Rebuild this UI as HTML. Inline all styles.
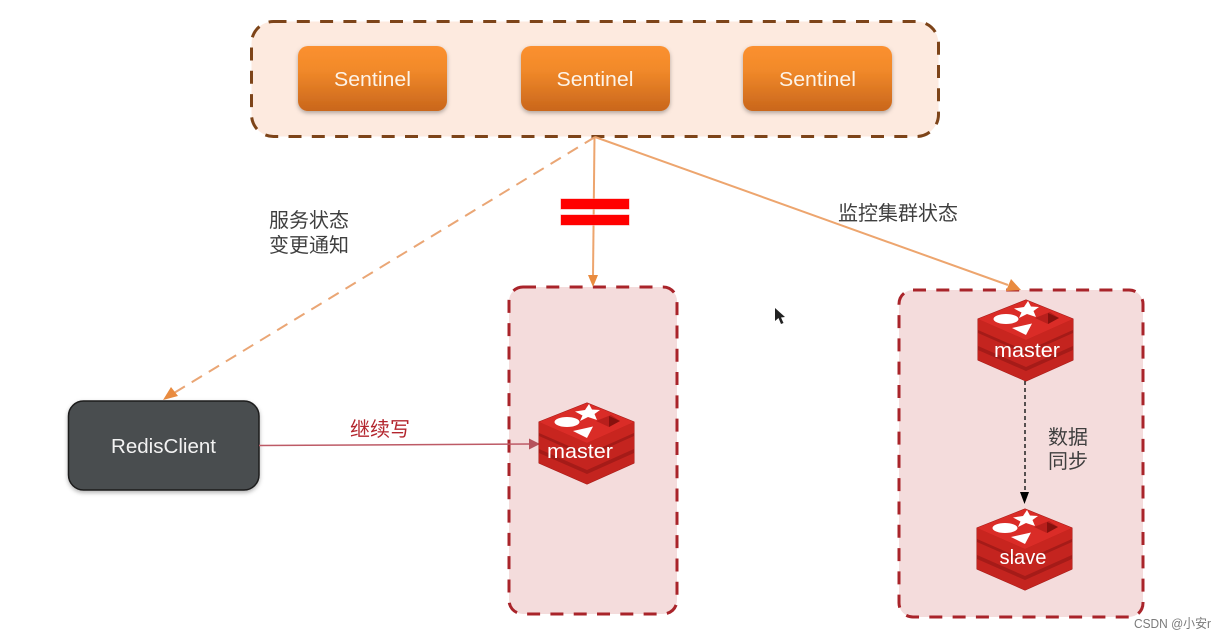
<!DOCTYPE html>
<html><head><meta charset="utf-8">
<style>
html,body{margin:0;padding:0;background:#fff;width:1228px;height:639px;overflow:hidden}
svg{display:block}
text{font-family:"Liberation Sans","Noto Sans CJK SC",sans-serif}
</style></head>
<body>
<svg width="1228" height="639" viewBox="0 0 1228 639" xmlns="http://www.w3.org/2000/svg">
<defs>
<linearGradient id="o" x1="0" y1="0" x2="0" y2="1"><stop offset="0" stop-color="#fb9030"/><stop offset="0.35" stop-color="#f28a2a"/><stop offset="1" stop-color="#c9661c"/></linearGradient>
<filter id="s" x="-10%" y="-10%" width="120%" height="130%"><feDropShadow dx="0" dy="2" stdDeviation="2" flood-color="#000" flood-opacity=".3"/></filter>
<filter id="t"><feGaussianBlur stdDeviation="0.35"/></filter>
<g id="logo">
<path d="M0 19L48 0L95 19V60L48 81L0 60Z" fill="#a51b18" stroke="#a51b18" stroke-linejoin="round" stroke-width="1"/>
<path d="M0 50V60L48 81L95 60V50L48 71Z" fill="#c4241f"/>
<path d="M0 33V46L48 67L95 46V33L48 54Z" fill="#c4241f"/>
<path d="M0 19V30L48 51L95 30V19L48 40Z" fill="#c8251f"/>
<path d="M0 19L48 0L95 19L48 40Z" fill="#da2c27"/>
<path d="M50 1L53 6.500L61 7L55.500 11L58 17L49 14L41 18L43.500 12.500L36 8.500L46 7Z" fill="#fff"/>
<ellipse cx="28" cy="19" rx="12.500" ry="5" fill="#fff"/>
<path d="M34 28L54 23.500L48 35Z" fill="#fff"/>
<path d="M57 18L72 12L81 18L70 24Z" fill="#b81f1c"/>
<path d="M70 13L81 18L70 24Z" fill="#86110e"/>
</g>
</defs>

<rect x="251.500" y="21.500" width="687" height="115" rx="22" fill="#fdeadf"/>
<rect x="251.500" y="21.500" width="687" height="115" rx="22" fill="none" stroke="#7d4419" stroke-width="3" stroke-dasharray="13 10.300"/>

<g filter="url(#s)">
<rect x="298" y="46" width="149" height="65" rx="10" fill="url(#o)"/>
<rect x="521" y="46" width="149" height="65" rx="10" fill="url(#o)"/>
<rect x="743" y="46" width="149" height="65" rx="10" fill="url(#o)"/>
</g>
<g font-size="20" fill="#fdf3e7" text-anchor="middle">
<text x="372.500" y="86" textLength="77" lengthAdjust="spacingAndGlyphs">Sentinel</text>
<text x="595" y="86" textLength="77" lengthAdjust="spacingAndGlyphs">Sentinel</text>
<text x="817.500" y="86" textLength="77" lengthAdjust="spacingAndGlyphs">Sentinel</text>
</g>

<rect x="509" y="287" width="168" height="327" rx="14" fill="#f4dcdc"/>
<rect x="509" y="287" width="168" height="327" rx="14" fill="none" stroke="#a9242a" stroke-width="3" stroke-dasharray="13 10.300"/>
<rect x="899" y="290" width="244" height="327" rx="14" fill="#f4dcdc"/>
<rect x="899" y="290" width="244" height="327" rx="14" fill="none" stroke="#a9242a" stroke-width="3" stroke-dasharray="13 10.300"/>

<g fill="none" stroke="#eda56e" stroke-width="2" filter="url(#t)">
<path d="M595 137L174 393" stroke-dasharray="12 8" stroke="#eaa675"/>
<path d="M594.500 137L593 276"/>
<path d="M595 137L1008 285"/>
</g>
<path d="M163 400L171 387L178 396Z" fill="#e98b3f"/>
<path d="M593 287L588 275L598 275Z" fill="#e98b3f"/>
<path d="M1021 290L1006 291L1011 279Z" fill="#e98b3f"/>

<rect x="560.500" y="198.500" width="69" height="11" fill="#f5a0a0"/>
<rect x="560.500" y="214.500" width="69" height="11" fill="#f5a0a0"/>
<rect x="561" y="199" width="68" height="10" fill="#f00"/>
<rect x="561" y="215" width="68" height="10" fill="#f00"/>

<rect x="68.500" y="401" width="190.500" height="89" rx="15" fill="#4a4d50" stroke="#1c1c1c" stroke-width="1.500" filter="url(#s)"/>
<text x="163.500" y="453" font-size="20" fill="#f2f2f2" text-anchor="middle" textLength="105" lengthAdjust="spacingAndGlyphs">RedisClient</text>

<path d="M259 445.500L530 444" stroke="#bd5a66" stroke-width="1.500" fill="none"/>
<path d="M540 444L529 438.500V449.500Z" fill="#b5525c"/>

<use href="#logo" x="539" y="403"/>
<text x="580" y="458" font-size="20" fill="#fff" text-anchor="middle" textLength="66" lengthAdjust="spacingAndGlyphs">master</text>
<use href="#logo" x="978" y="300"/>
<text x="1027" y="357" font-size="20" fill="#fff" text-anchor="middle" textLength="66" lengthAdjust="spacingAndGlyphs">master</text>
<use href="#logo" x="977" y="509"/>
<text x="1023" y="564" font-size="20" fill="#fff" text-anchor="middle" textLength="47" lengthAdjust="spacingAndGlyphs">slave</text>

<path d="M1025 381V492" stroke="#222" stroke-width="1.500" stroke-dasharray="4 3" fill="none"/>
<path d="M1024.500 504L1020 492H1029Z" fill="#000"/>

<g font-size="20" fill="#3f3f3f">
<text x="269" y="227">服务状态</text>
<text x="269" y="252">变更通知</text>
<text x="838" y="220">监控集群状态</text>
<text x="1048" y="444">数据</text>
<text x="1048" y="468">同步</text>
</g>
<text x="350" y="436" font-size="20" fill="#b3262e">继续写</text>

<path d="M775 308L775 321L778.500 318L781 324L783.500 323L781 317.500L785 317Z" fill="#222"/>

<text x="1134" y="628" font-size="13" fill="#7a7a7a" textLength="77" lengthAdjust="spacingAndGlyphs">CSDN @小安r</text>
</svg>
</body></html>
